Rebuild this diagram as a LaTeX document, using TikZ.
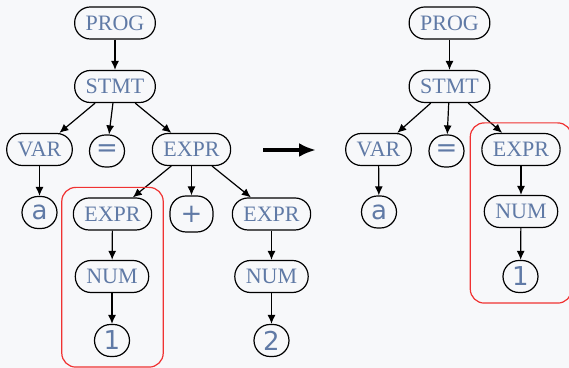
\documentclass[tikz,border=0pt]{standalone}
\usepackage{fontspec}
\newfontfamily\tokenfont{DejaVu Sans}
\newfontfamily\rulefont{Liberation Serif}
\usetikzlibrary{arrows.meta,fit}
\definecolor{labelblue}{RGB}{96,122,166}
\definecolor{pagebg}{RGB}{247,248,250}
\definecolor{boxred}{RGB}{240,50,50}
\tikzset{
  nonterm/.style={draw, rectangle, rounded corners=7.8pt, line width=0.6pt,
    text=labelblue, minimum height=16pt, inner xsep=5.5pt,
    font=\rulefont\fontsize{11}{13}\selectfont},
  token/.style={draw, rectangle, rounded corners=8pt, line width=0.6pt,
    text=labelblue, minimum height=16pt, minimum width=17.5pt, inner sep=1pt,
    font=\tokenfont\fontsize{13}{15}\selectfont},
  branch/.style={-{Latex[length=4.5pt,width=4pt]}, line width=0.6pt},
  subtree/.style={draw=boxred, rounded corners=7pt, line width=0.6pt,
    inner xsep=5.5pt, inner ysep=5pt}
}
\begin{document}
\begin{tikzpicture}[x=0.5pt,y=-0.5pt]
    \fill[pagebg] (0,0) rectangle (569,368);
    \useasboundingbox (0,0) rectangle (569,368);
    % parse tree of a = 1 + 2
    \node[nonterm] (prog) at (115,23) {PROG};
    \node[nonterm] (stmt) at (115,86.5) {STMT};
    \node[nonterm] (var) at (39.5,149.5) {VAR};
    \node[token] (eq) at (107,151) {=};
    \node[nonterm] (expr) at (191.5,149.5) {EXPR};
    \node[token] (a) at (39.5,212.5) {a};
    \node[nonterm] (exprl) at (112.5,214) {EXPR};
    \node[token,minimum width=21.5pt,minimum height=18pt] (plus) at (191.5,214) {+};
    \node[nonterm] (exprr) at (271.5,214) {EXPR};
    \node[nonterm] (numl) at (112,276.5) {NUM};
    \node[nonterm] (numr) at (271.5,276.5) {NUM};
    \node[token] (one) at (112,340.5) {1};
    \node[token] (two) at (271.5,340.5) {2};
    \draw[branch] (prog) -- (stmt);
    \draw[branch] (stmt) -- (var);
    \draw[branch] (stmt) -- (eq);
    \draw[branch] (stmt) -- (expr);
    \draw[branch] (var) -- (a);
    \draw[branch] (expr) -- (exprl);
    \draw[branch] (expr) -- (plus);
    \draw[branch] (expr) -- (exprr);
    \draw[branch] (exprl) -- (numl);
    \draw[branch] (numl) -- (one);
    \draw[branch] (exprr) -- (numr);
    \draw[branch] (numr) -- (two);
    \node[subtree,fit=(exprl)(numl)(one)] (boxl) {};
    % rewrite step
    \coordinate (from) at (263,150);
    \coordinate (to) at (316,150);
    \draw[line width=2pt,-{Latex[length=8.5pt,width=7pt]}] (from) -- (to);
    % tree after folding the left operand
    \node[nonterm] (prog2) at (449.5,23) {PROG};
    \node[nonterm] (stmt2) at (449.5,86.5) {STMT};
    \node[nonterm] (var2) at (378.5,149.5) {VAR};
    \node[token] (eq2) at (446.5,151) {=};
    \node[nonterm] (expr2) at (521,149.5) {EXPR};
    \node[token] (a2) at (379,212) {a};
    \node[nonterm] (num2) at (521,211.5) {NUM};
    \node[token] (one2) at (520.5,276.5) {1};
    \draw[branch] (prog2) -- (stmt2);
    \draw[branch] (stmt2) -- (var2);
    \draw[branch] (stmt2) -- (eq2);
    \draw[branch] (stmt2) -- (expr2);
    \draw[branch] (var2) -- (a2);
    \draw[branch] (expr2) -- (num2);
    \draw[branch] (num2) -- (one2);
    \node[subtree,fit=(expr2)(num2)(one2)] (boxr) {};
\end{tikzpicture}
\end{document}
